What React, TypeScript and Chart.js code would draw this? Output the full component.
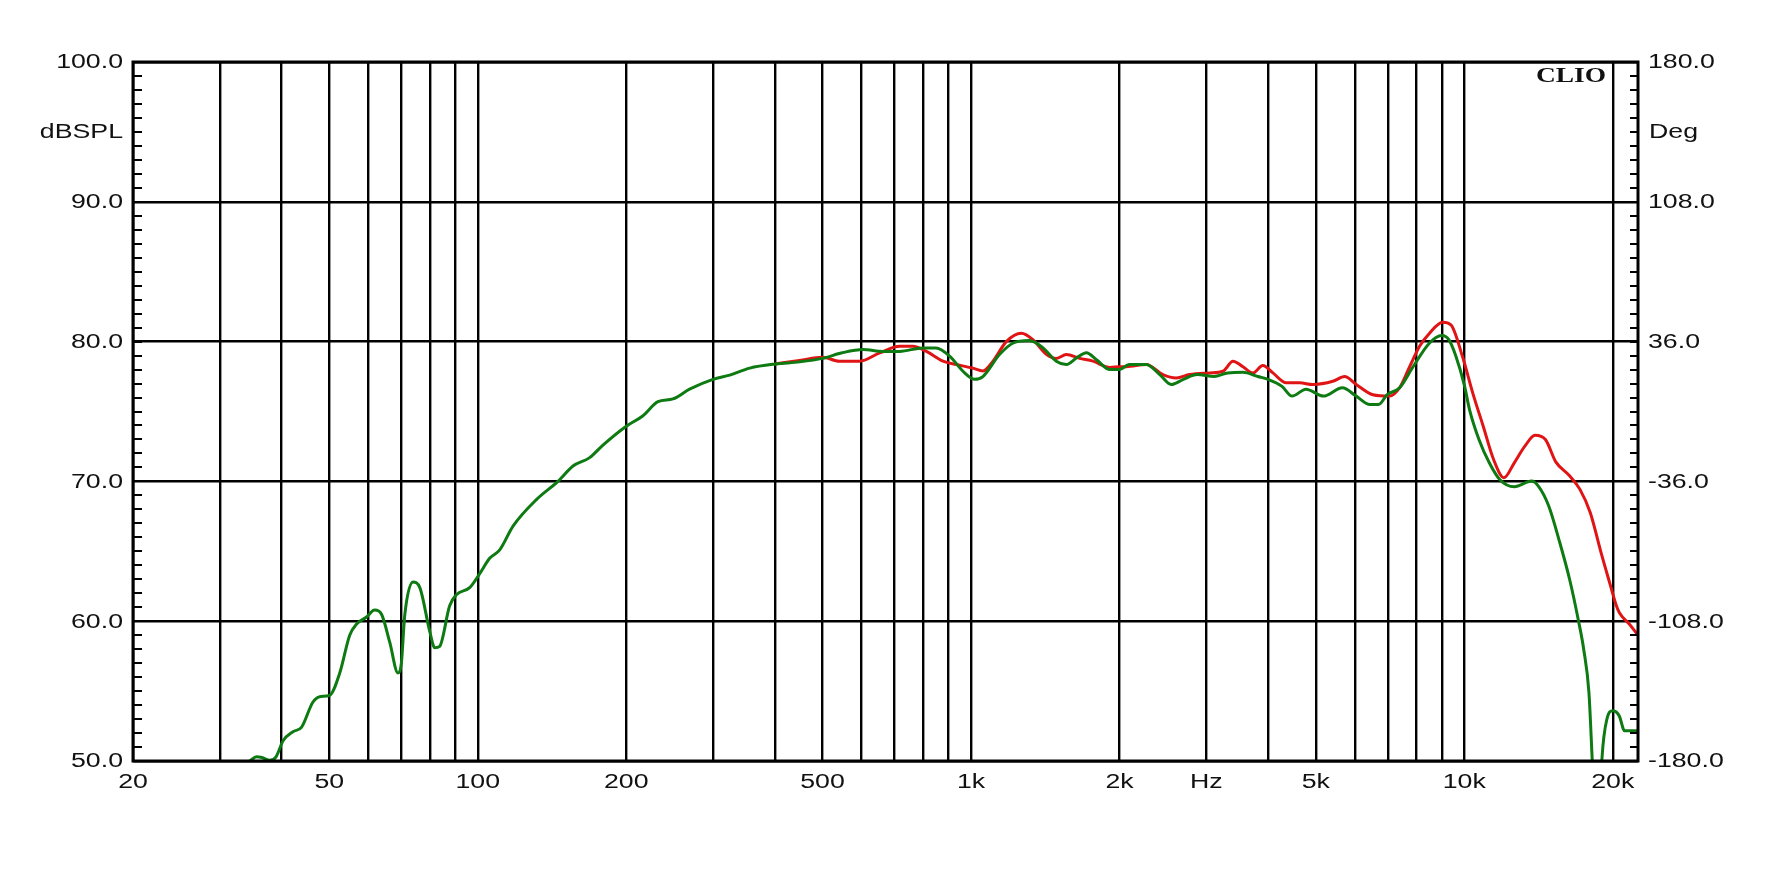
import React, { useEffect, useRef } from "react";
import { Chart, registerables } from "chart.js";

Chart.register(...registerables);

// ---- data ----
const greenFreq = [
  33, 34.5, 35.6, 36.5, 37.9, 39, 40.3, 42.2, 43.9, 46.3, 47.8, 50.1, 52.5, 55, 56.8, 59.5, 61.8, 63.8,
  66.3, 68.9, 70, 71.1, 73.9, 76.3, 80, 81.8, 83.7, 87.7, 90.5, 96.3, 100.9, 105.7, 110.8, 117.9, 131.5,
  145.4, 156, 168.6, 179.4, 200, 216.3, 231.9, 248.7, 268.8, 299.8, 324.2, 355.9, 401.9, 449.4, 500,
  548, 604, 663, 717, 798, 849, 906, 963, 1018, 1057, 1142, 1218, 1313, 1399, 1489, 1560, 1636, 1714,
  1796, 1913, 2000, 2092, 2266, 2413, 2546, 2695, 2874, 3111, 3315, 3558, 3816, 4000, 4270, 4475, 4776,
  5180, 5661, 6039, 6439, 6701, 6977, 7394, 7874, 8503, 9000, 9304, 9617, 10016, 10247, 10709, 11239,
  11796, 12630, 13692, 14130, 14832, 15566, 16348, 17033, 17461, 17894, 18170, 18400, 18800, 19010,
  19460, 20000, 20630, 21000, 21110, 22500,
];
const greenDb = [
  49.6, 50.0, 50.3, 50.25, 50.05, 50.3, 51.45, 52.1, 52.4, 54.2, 54.6, 54.7, 56.3, 59.0, 59.8, 60.3, 60.8, 60.5,
  58.5, 56.3, 57.0, 60.4, 62.8, 62.4, 59.2, 58.1, 58.2, 61.1, 61.9, 62.4, 63.4, 64.5, 65.1, 66.8, 68.7,
  70.0, 71.1, 71.7, 72.6, 73.95, 74.7, 75.7, 75.9, 76.6, 77.3, 77.6, 78.1, 78.4, 78.55, 78.8,
  79.2, 79.43, 79.3, 79.3, 79.55, 79.55, 78.95, 77.88, 77.3, 77.5, 79.07, 79.9, 80.07, 79.55, 78.6, 78.36, 78.83, 79.2,
  78.7, 78.0, 78.0, 78.36, 78.36, 77.64, 76.93, 77.3, 77.64, 77.5, 77.76, 77.8, 77.5, 77.3, 76.8, 76.1, 76.6,
  76.1, 76.7, 76.1, 75.5, 75.5, 76.2, 76.7, 78.2, 79.9, 80.43, 80.14, 78.95, 76.8, 75.14, 73.0, 71.33,
  70.14, 69.62, 70.02, 69.66, 68.24, 65.8, 63.0, 60.07, 58.0, 54.9, 50.1, 46, 46, 50.1,
  53.0, 53.6, 53.2, 52.3, 52.16, 52.16,
];
const redFreq = [
  400, 449, 500, 541, 594, 653, 717, 762, 812, 877, 934, 1009, 1057, 1108, 1179, 1265, 1335, 1421, 1489,
  1560, 1660, 1767, 1913, 2000, 2064, 2266, 2449, 2606, 2774, 3045, 3241, 3397, 3558, 3728, 3905, 4093,
  4357, 4636, 4932, 5414, 5720, 6039, 6527, 7055, 7394, 7749, 8116, 8503, 9039, 9394, 9913, 10408, 10924,
  11466, 12033, 12630, 13257, 13913, 14604, 15327, 16348, 17158, 18009, 18904, 19400, 19839, 20300, 20630, 21600, 22500,
];
const redDb = [
  78.4, 78.65, 78.88, 78.6, 78.6, 79.2, 79.66, 79.66, 79.3, 78.6, 78.36, 78.1, 77.9, 78.6, 80.0, 80.6, 80.14, 79.1, 78.8,
  79.07, 78.8, 78.6, 78.15, 78.2, 78.2, 78.36, 77.64, 77.4, 77.64, 77.76, 77.88, 78.6, 78.2, 77.76, 78.29, 77.76,
  77.05, 77.05, 76.93, 77.16, 77.5, 76.93, 76.2, 76.1, 76.7, 78.2, 79.66, 80.6, 81.38, 81.2, 78.95, 76.3, 73.95,
  71.57, 70.26, 71.33, 72.5, 73.3, 73.0, 71.4, 70.4, 69.43, 67.76, 65.0, 63.6, 62.4, 61.2, 60.6, 59.8, 59.0,
];

// ---- axes / ticks ----
const xGridFreqs = [
  20, 30, 40, 50, 60, 70, 80, 90, 100, 200, 300, 400, 500, 600, 700, 800, 900,
  1000, 2000, 3000, 4000, 5000, 6000, 7000, 8000, 9000, 10000, 20000,
];
const xLabelFreqs = [20, 50, 100, 200, 500, 1000, 2000, 3000, 5000, 10000, 20000];
const xLabels = ["20", "50", "100", "200", "500", "1k", "2k", "Hz", "5k", "10k", "20k"];
const yTicks = [50, 60, 70, 80, 90, 100];
const degTicks = [-180, -108, -36, 36, 108, 180];
const X_MIN = 20;
const X_MAX = 22500;

const TEXT_FONT = '19.5px "Liberation Sans", Arial, sans-serif';
const STRETCH = 1.37;

function drawText(ctx: CanvasRenderingContext2D, text: string, x: number, y: number, align: CanvasTextAlign, font = TEXT_FONT) {
  ctx.save();
  ctx.font = font;
  ctx.fillStyle = "#111";
  ctx.textAlign = align;
  ctx.textBaseline = "middle";
  ctx.translate(x, y);
  ctx.scale(STRETCH, 1);
  ctx.fillText(text, 0, 0);
  ctx.restore();
}

const decorPlugin = {
  id: "clioDecor",
  afterDraw(chart: any) {
    const { ctx, chartArea, scales } = chart;
    const { left, right, top, bottom } = chartArea;
    const ys = scales.y;
    const y2 = scales.y2;
    const xs = scales.x;

    // minor ticks (inside)
    ctx.save();
    ctx.strokeStyle = "#000";
    ctx.lineWidth = 2;
    for (let v = 51; v < 100; v++) {
      const py = Math.round(ys.getPixelForValue(v));
      ctx.beginPath();
      ctx.moveTo(left, py);
      ctx.lineTo(left + 9, py);
      ctx.moveTo(right - 8, py);
      ctx.lineTo(right, py);
      ctx.stroke();
    }
    // frame
    ctx.lineWidth = 3;
    ctx.strokeRect(left, top, right - left, bottom - top);
    ctx.restore();

    // left labels
    yTicks.forEach((v) => drawText(ctx, v.toFixed(1), left - 10, ys.getPixelForValue(v) + 1, "right"));
    drawText(ctx, "dBSPL", left - 10, ys.getPixelForValue(95) + 1, "right");
    // right labels
    degTicks.forEach((v) => drawText(ctx, v.toFixed(1), right + 10, y2.getPixelForValue(v) + 1, "left"));
    drawText(ctx, "Deg", right + 11, ys.getPixelForValue(95) + 1, "left");
    // x labels
    xLabelFreqs.forEach((f, i) => drawText(ctx, xLabels[i], xs.getPixelForValue(f), bottom + 22, "center"));
    // CLIO
    drawText(ctx, "CLIO", 1606, 77, "right", 'bold 20px "Liberation Serif", "Times New Roman", serif');
  },
};

export default function App() {
  const ref = useRef<HTMLCanvasElement | null>(null);
  useEffect(() => {
    document.body.style.margin = "0";
    document.body.style.overflow = "hidden";
    const canvas = ref.current;
    if (!canvas) return;
    const chart = new Chart(canvas, {
      type: "line",
      data: {
        datasets: [
          {
            label: "green",
            data: greenFreq.map((f, i) => ({ x: f, y: greenDb[i] })),
            borderColor: "#0d7a12",
            borderWidth: 3,
            pointRadius: 0,
            cubicInterpolationMode: "monotone",
            fill: false,
          },
          {
            label: "red",
            data: redFreq.map((f, i) => ({ x: f, y: redDb[i] })),
            borderColor: "#e01414",
            borderWidth: 3,
            pointRadius: 0,
            cubicInterpolationMode: "monotone",
            fill: false,
          },
        ],
      },
      options: {
        responsive: false,
        animation: false,
        devicePixelRatio: 1,
        layout: { padding: { top: 62, left: 0, right: 0, bottom: 0 } },
        plugins: { legend: { display: false }, tooltip: { enabled: false } },
        scales: {
          x: {
            type: "logarithmic",
            min: X_MIN,
            max: X_MAX,
            afterBuildTicks: (s: any) => {
              s.ticks = xGridFreqs.map((v) => ({ value: v }));
            },
            afterFit: (s: any) => {
              s.height = 125;
            },
            ticks: { display: false },
            grid: { color: "#000", lineWidth: 2.4, drawTicks: false },
            border: { display: false },
          },
          y: {
            type: "linear",
            position: "left",
            min: 50,
            max: 100,
            afterBuildTicks: (s: any) => {
              s.ticks = yTicks.map((v) => ({ value: v }));
            },
            afterFit: (s: any) => {
              s.width = 133;
            },
            ticks: { display: false },
            grid: { color: "#000", lineWidth: 2.4, drawTicks: false },
            border: { display: false },
          },
          y2: {
            type: "linear",
            position: "right",
            min: -180,
            max: 180,
            afterBuildTicks: (s: any) => {
              s.ticks = degTicks.map((v) => ({ value: v }));
            },
            afterFit: (s: any) => {
              s.width = 134;
            },
            ticks: { display: false },
            grid: { display: false, drawOnChartArea: false },
            border: { display: false },
          },
        },
      },
      plugins: [decorPlugin],
    } as any);
    return () => chart.destroy();
  }, []);
  return (
    <div style={{ position: "absolute", left: 0, top: 0, background: "#fff" }}>
      <canvas ref={ref} width={1772} height={886} style={{ display: "block" }} />
    </div>
  );
}
